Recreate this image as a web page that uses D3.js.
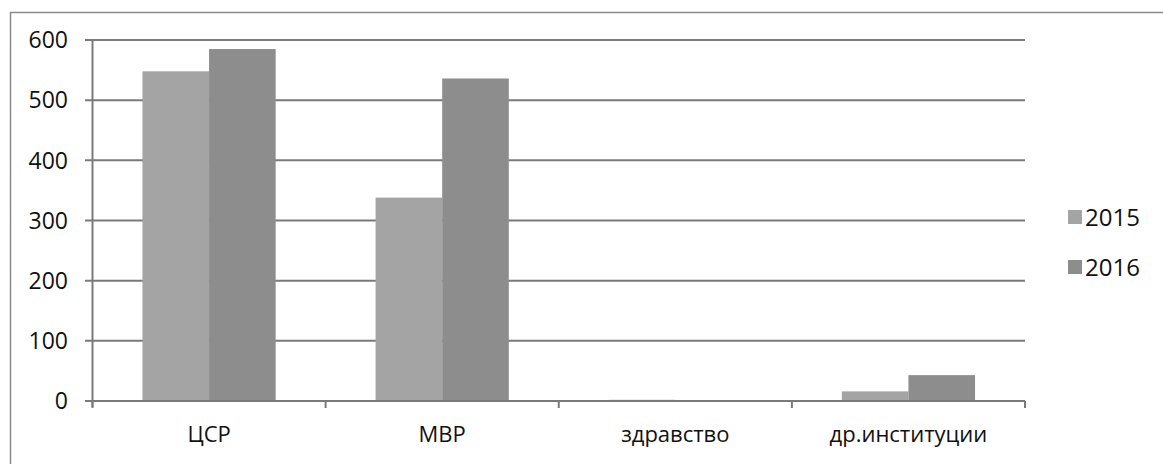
<!DOCTYPE html>
<html><head><meta charset="utf-8">
<script src="https://cdn.jsdelivr.net/npm/d3@7"></script>
<style>
html,body{margin:0;padding:0;background:#fff;}
svg{display:block;}
text{font-family:"Open Sans",sans-serif;fill:#111;}
</style></head>
<body>
<svg id="chart" width="1163" height="464"></svg>
<script>
const categories = ["ЦСР", "МВР", "здравство", "др.институции"];
const seriesNames = ["2015", "2016"];
const values2015 = [548, 338, 2, 16];
const values2016 = [585, 536, 1, 43];
const yTicks = [0, 100, 200, 300, 400, 500, 600];
const colors = ["#a4a4a4", "#8d8d8d"];

const svg = d3.select("#chart");
const m = {left: 92.5, right: 1025, top: 40, bottom: 401};

// outer frame
svg.append("rect").attr("x", 10.5).attr("y", 12.5).attr("width", 1170).attr("height", 480)
  .attr("fill", "none").attr("stroke", "#8a8a8a").attr("stroke-width", 1.5);

const x0 = d3.scaleBand().domain(categories).range([m.left, m.right]).paddingInner(0).paddingOuter(0);
const x1 = d3.scaleBand().domain(seriesNames).range([0, x0.bandwidth()]).paddingInner(0).paddingOuter(0.75);
const y = d3.scaleLinear().domain([0, 600]).range([m.bottom, m.top]);

// gridlines
svg.append("g").selectAll("line").data(yTicks).join("line")
  .attr("x1", 85).attr("x2", m.right)
  .attr("y1", d => y(d)).attr("y2", d => y(d))
  .attr("stroke", "#7a7a7a").attr("stroke-width", 2);

// y axis line
svg.append("line").attr("x1", m.left).attr("x2", m.left).attr("y1", m.top).attr("y2", m.bottom + 6)
  .attr("stroke", "#7a7a7a").attr("stroke-width", 2);

// y labels
svg.append("g").selectAll("text").data(yTicks).join("text")
  .attr("x", 68).attr("y", d => y(d)).attr("dy", "0.36em")
  .attr("text-anchor", "end").attr("font-size", 23).text(d => d);

// bars
const data = categories.map((c, i) => ({cat: c, vals: [values2015[i], values2016[i]]}));
const groups = svg.append("g").selectAll("g").data(data).join("g")
  .attr("transform", d => `translate(${x0(d.cat)},0)`);
groups.selectAll("rect").data(d => d.vals.map((v, j) => ({v, s: seriesNames[j], j})))
  .join("rect")
  .attr("x", d => x1(d.s)).attr("width", x1.bandwidth())
  .attr("y", d => y(d.v)).attr("height", d => y(0) - y(d.v))
  .attr("fill", d => colors[d.j]);

// x axis baseline and ticks
svg.append("line").attr("x1", 85).attr("x2", m.right).attr("y1", y(0)).attr("y2", y(0))
  .attr("stroke", "#7a7a7a").attr("stroke-width", 2);
const tickPos = categories.map(c => x0(c)).concat([m.right]);
svg.append("g").selectAll("line").data(tickPos).join("line")
  .attr("x1", d => d).attr("x2", d => d).attr("y1", y(0)).attr("y2", y(0) + 7)
  .attr("stroke", "#7a7a7a").attr("stroke-width", 2);

// category labels
svg.append("g").selectAll("text").data(categories).join("text")
  .attr("x", d => x0(d) + x0.bandwidth() / 2).attr("y", 442)
  .attr("text-anchor", "middle").attr("font-size", 22).text(d => d);

// legend
const lg = svg.append("g").selectAll("g").data(seriesNames).join("g")
  .attr("transform", (d, i) => `translate(1068,${217 + i * 50})`);
lg.append("rect").attr("x", 0).attr("y", -7).attr("width", 14).attr("height", 14)
  .attr("fill", (d, i) => colors[i]);
lg.append("text").attr("x", 17).attr("y", 0).attr("dy", "0.36em")
  .attr("font-size", 24).text(d => d);
</script>
</body></html>
